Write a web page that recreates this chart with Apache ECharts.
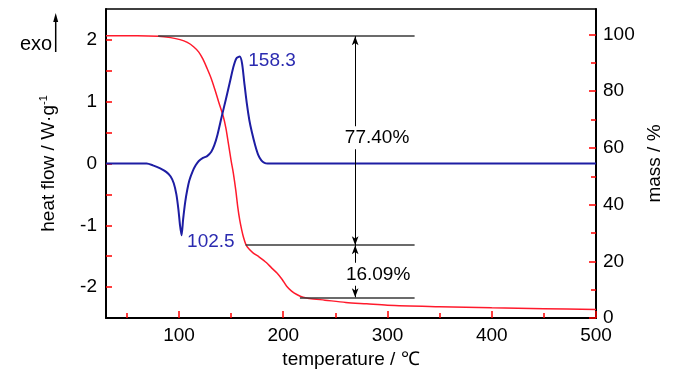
<!DOCTYPE html>
<html>
<head>
<meta charset="utf-8">
<title>DSC / TG</title>
<script src="https://cdn.jsdelivr.net/npm/echarts@6.0.0/dist/echarts.min.js"></script>
<style>
  html, body { margin: 0; padding: 0; background: #fff; }
  #chart { width: 700px; height: 375px; }
</style>
</head>
<body>
<div id="chart"></div>
<script>
// 热流曲线 (DSC)：[温度 ℃, W/g]
const heatFlow = [
  [30, 0], [69, 0], [75, -0.03], [82, -0.08], [88, -0.14], [92, -0.21], [95, -0.32],
  [97.5, -0.5], [99.5, -0.75], [101, -1.0], [102.5, -1.16], [104, -0.9], [106, -0.62],
  [108, -0.42], [110, -0.27], [113, -0.13], [116, -0.03], [119, 0.04], [123, 0.09],
  [127, 0.12], [131, 0.19], [134, 0.3], [137, 0.47], [141, 0.76], [145, 1.04],
  [149, 1.33], [152, 1.55], [155, 1.7], [158.3, 1.73], [160.5, 1.62], [162.5, 1.33],
  [165, 0.98], [167.5, 0.7], [170, 0.5], [173, 0.3], [176, 0.14], [179, 0.05],
  [182, 0.01], [185, 0], [500, 0]
];

// 质量曲线 (TG)：[温度 ℃, %]
const mass = [
  [30, 99.6], [60, 99.6], [80, 99.4], [92, 98.9], [101, 98.2], [108, 97.2], [114, 95.7],
  [119, 93.8], [123, 91.3], [127, 88.0], [131, 84.4], [134.5, 80.5], [138, 76.3],
  [142.5, 71.1], [145, 67], [147.3, 61.8], [150, 55.5], [152.1, 51.2], [154.5, 45],
  [156.3, 39.4], [158.3, 34.5], [160.1, 31.2], [162, 28.3], [164.2, 25.9], [167, 24.4],
  [171, 23.0], [177, 21.5], [184, 19.5], [189, 17.6], [194, 15.9], [199, 13.6],
  [203.3, 11.2], [208, 9.5], [213, 8.3], [219, 7.3], [225, 6.9], [240, 6.3], [260, 5.5],
  [280, 5.0], [300, 4.5], [350, 4.0], [400, 3.6], [450, 3.3], [500, 3.0]
];

// 峰值标注
const peakLabels = [
  { t: 158.3, v: 1.73, text: '158.3', offset: [3, 4] },
  { t: 102.5, v: -1.16, text: '102.5', offset: [0, 7] }
];

// 失重台阶：水平参考线 [起点温度, 终点温度, 质量%]
const stepLines = [[80, 326, 99.4], [164, 326, 25.7], [216, 326, 7.3]];
const arrowT = 269;
const lossLabels = [
  { t: 290, m: 63.6, text: '77.40%' },
  { t: 291, m: 15.4, text: '16.09%' }
];

// 刻度
const xLabelValues = [100, 200, 300, 400, 500];
const xMinorTicks = [50, 150, 250, 350, 450];
const leftTickStep = 0.5;
const rightLabelValues = [0, 20, 40, 60, 80, 100];
const rightMinorTicks = [10, 30, 50, 70, 90];

const FONT = "'Liberation Sans', Arial, sans-serif";
const BLUE = '#1d1da3';
const RED = '#ff1a2c';
const GREY = '#3a3a3a';
const TICK = 'red';   // 调试：检查刻度是否绘制

const chart = echarts.init(document.getElementById('chart'));

const hLines = stepLines.map(function (s) {
  return [{ coord: [s[0], s[2]] }, { coord: [s[1], s[2]] }];
});
const arrows = [
  [{ coord: [arrowT, stepLines[0][2]] }, { coord: [arrowT, stepLines[1][2]] }],
  [{ coord: [arrowT, stepLines[1][2]] }, { coord: [arrowT, stepLines[2][2]] }]
];

const option = {
  animation: false,
  backgroundColor: '#fff',
  grid: { left: 106, right: 104, top: 9, bottom: 57 },
  xAxis: [
    {
      type: 'value', min: 30, max: 500, position: 'bottom',
      name: 'temperature / ℃', nameLocation: 'middle', nameGap: 30,
      nameTextStyle: { fontSize: 19, color: '#000', fontFamily: FONT },
      axisLine: { show: true, onZero: false, lineStyle: { color: '#000', width: 2 } },
      axisTick: { show: true, inside: true, length: 7, lineStyle: { color: TICK, width: 1.5 },
        customValues: xLabelValues },
      axisLabel: { show: true, fontSize: 19, color: '#000', margin: 8, fontFamily: FONT,
        customValues: xLabelValues },
      splitLine: { show: false }
    },
    {
      type: 'value', min: 30, max: 500, position: 'bottom',
      axisLine: { show: false, onZero: false },
      axisTick: { show: true, inside: true, length: 5, lineStyle: { color: TICK, width: 1.5 },
        customValues: xMinorTicks },
      axisLabel: { show: false },
      splitLine: { show: false }
    },
    {
      // 上边框
      type: 'value', min: 30, max: 500, position: 'top',
      axisLine: { show: true, onZero: false, lineStyle: { color: '#000', width: 1.5 } },
      axisTick: { show: false },
      axisLabel: { show: false },
      splitLine: { show: false }
    }
  ],
  yAxis: [
    {
      type: 'value', min: -2.5, max: 2.5, interval: leftTickStep, position: 'left',
      name: 'heat flow / W·g{sup|-1}', nameLocation: 'middle', nameGap: 47,
      nameTextStyle: { fontSize: 19, color: '#000', fontFamily: FONT,
        rich: { sup: { fontSize: 11, color: '#000', padding: [0, 0, 10, 0], fontFamily: FONT } } },
      axisLine: { show: true, onZero: false, lineStyle: { color: '#000', width: 2 } },
      axisTick: { show: true, inside: true, length: 6, lineStyle: { color: TICK, width: 1.5 } },
      axisLabel: { show: true, fontSize: 19, color: '#000', margin: 9, fontFamily: FONT,
        showMinLabel: false, showMaxLabel: false,
        formatter: function (v) { return Math.abs(v % 1) < 1e-6 ? String(v) : ''; } },
      splitLine: { show: false }
    },
    {
      type: 'value', min: 0, max: 109, position: 'right',
      name: 'mass / %', nameLocation: 'middle', nameGap: 47,
      nameTextStyle: { fontSize: 19, color: '#000', fontFamily: FONT },
      axisLine: { show: true, onZero: false, lineStyle: { color: '#000', width: 2 } },
      axisTick: { show: true, inside: true, length: 7, lineStyle: { color: TICK, width: 1.5 },
        customValues: rightLabelValues },
      axisLabel: { show: true, fontSize: 19, color: '#000', margin: 7, fontFamily: FONT,
        customValues: rightLabelValues },
      splitLine: { show: false }
    },
    {
      type: 'value', min: 0, max: 109, position: 'right',
      axisLine: { show: false, onZero: false },
      axisTick: { show: true, inside: true, length: 5, lineStyle: { color: TICK, width: 1.5 },
        customValues: rightMinorTicks },
      axisLabel: { show: false },
      splitLine: { show: false }
    }
  ],
  graphic: [
    { type: 'text', left: 20, top: 34,
      style: { text: 'exo', fontSize: 20, fill: '#000', fontFamily: FONT } },
    { type: 'line', shape: { x1: 55.7, y1: 52, x2: 55.7, y2: 18 },
      style: { stroke: '#000', lineWidth: 1.5 } },
    { type: 'polygon', shape: { points: [[55.7, 13], [53.2, 22], [58.2, 22]] },
      style: { fill: '#000' } }
  ],
  series: [
    {
      name: 'mass', type: 'line', xAxisIndex: 0, yAxisIndex: 1,
      data: mass, smooth: 0.3, symbol: 'none',
      lineStyle: { color: RED, width: 1.5 },
      z: 3,
      markLine: {
        silent: true, symbol: ['none', 'none'],
        label: { show: false },
        lineStyle: { color: GREY, width: 1.5, type: 'solid' },
        data: hLines
      },
      markPoint: {
        silent: true, symbol: 'rect', symbolSize: 1,
        itemStyle: { color: 'rgba(0,0,0,0)' },
        label: {
          show: true, position: 'inside', fontSize: 19, color: '#000',
          fontFamily: FONT, backgroundColor: '#fff', padding: [2, 1],
          formatter: function (p) { return p.name; }
        },
        data: lossLabels.map(function (l) {
          return { name: l.text, coord: [l.t, l.m] };
        })
      }
    },
    {
      name: 'arrows', type: 'line', xAxisIndex: 0, yAxisIndex: 1,
      data: [], z: 2,
      markLine: {
        silent: true, symbol: ['arrow', 'arrow'], symbolSize: [5, 9],
        label: { show: false },
        lineStyle: { color: '#000', width: 1, type: 'solid' },
        data: arrows
      }
    },
    {
      name: 'heat flow', type: 'line', xAxisIndex: 0, yAxisIndex: 0,
      data: heatFlow, smooth: 0.25, symbol: 'none',
      lineStyle: { color: BLUE, width: 2 },
      z: 4,
      markPoint: {
        silent: true, symbol: 'rect', symbolSize: 1,
        itemStyle: { color: 'rgba(0,0,0,0)' },
        label: {
          show: true, position: 'right', distance: 5, fontSize: 19, color: '#2b2bb0',
          fontFamily: FONT, formatter: function (p) { return p.name; }
        },
        data: peakLabels.map(function (p) {
          return { name: p.text, coord: [p.t, p.v], label: { offset: p.offset } };
        })
      }
    }
  ]
};

chart.setOption(option);
window.addEventListener('resize', function () { chart.resize(); });
</script>
</body>
</html>
